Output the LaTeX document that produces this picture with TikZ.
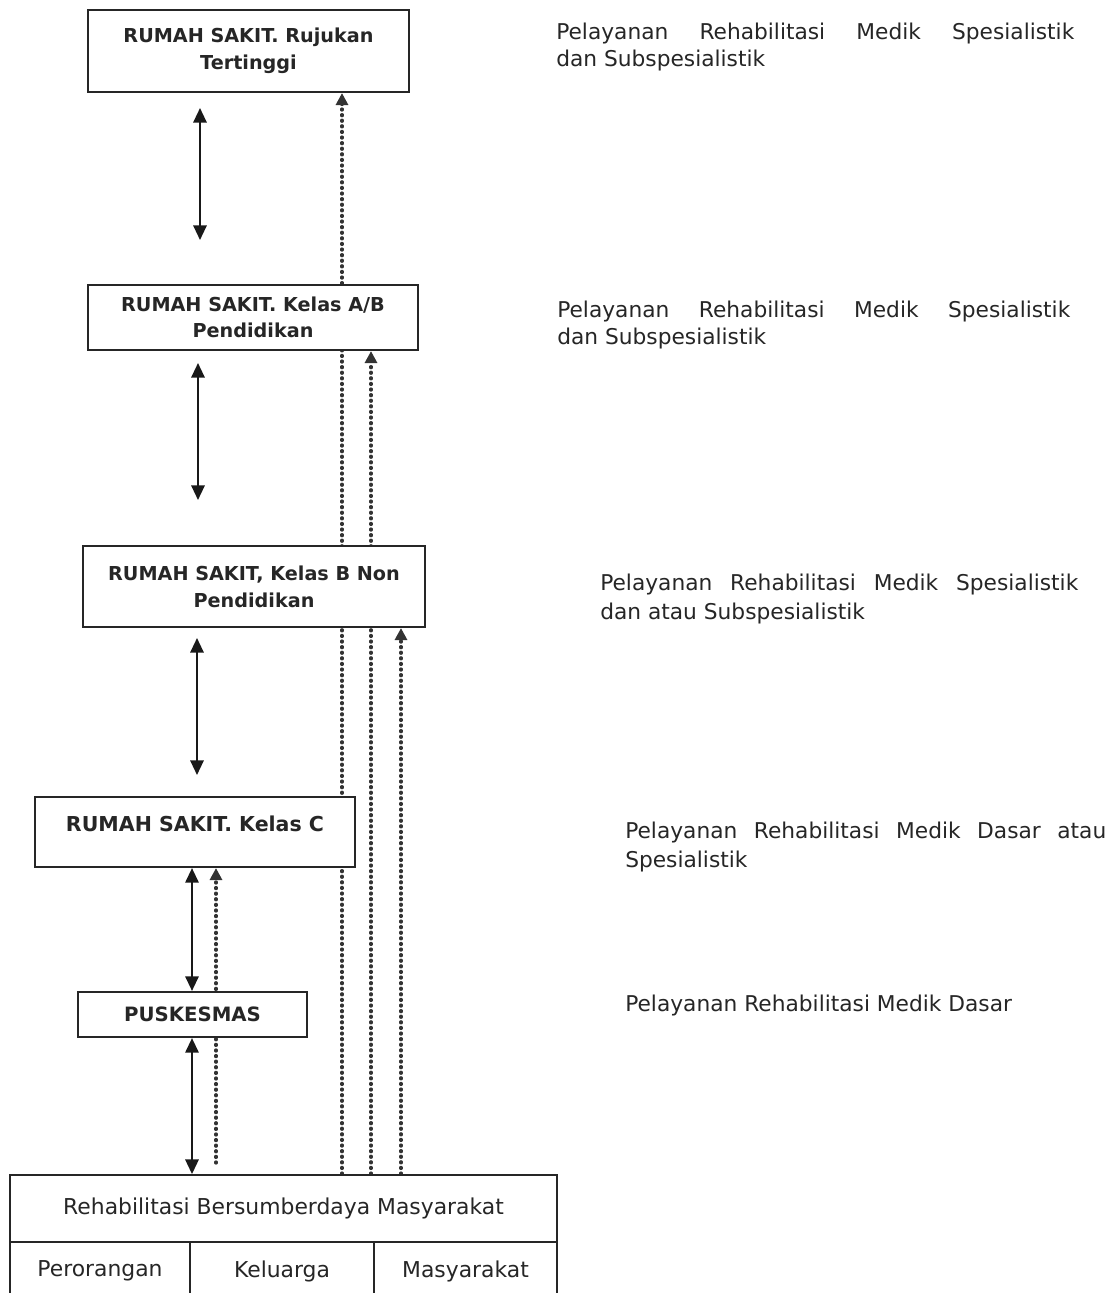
\documentclass[tikz,border=0pt]{standalone}
\usepackage{fontspec}
\setmainfont{DejaVu Sans}
\usetikzlibrary{arrows.meta,backgrounds}
\begin{document}
\begin{tikzpicture}[x=0.75pt,y=-0.75pt,
  box/.style={draw=black!85,line width=1.6pt,fill=white,inner sep=0pt,align=center,
    text=black!85,font=\bfseries\fontsize{14.4}{20}\selectfont},
  cell/.style={draw=black!85,line width=1.4pt,fill=white,inner sep=0pt,text=black!85,
    font=\fontsize{16.4}{20}\selectfont},
  dbl/.style={black!90,line width=1.6pt,{Triangle[length=11pt,width=10pt]}-{Triangle[length=11pt,width=10pt]}},
  dotarrow/.style={black!80,line width=2.4pt,dash pattern=on 0.8pt off 3.4pt,line cap=round,
    -{Triangle[length=9pt,width=9pt]}},
  info/.style={anchor=base west,inner sep=0pt,align=left,text=black!85,
    font=\fontsize{16.3}{20}\selectfont}]
\useasboundingbox (0,0) rectangle (1117,1293);
\clip (0,0) rectangle (1117,1293);

% boxes
\node[box,minimum width=321*0.75pt,minimum height=82*0.75pt] (b1) at (248.5,51)
  {RUMAH SAKIT. Rujukan\\Tertinggi};
\node[box,minimum width=330*0.75pt,minimum height=65*0.75pt] (b2) at (253,317.5)
  {RUMAH SAKIT. Kelas A/B\\Pendidikan};
\node[box,minimum width=342*0.75pt,minimum height=81*0.75pt] (b3) at (254,586.5)
  {RUMAH SAKIT, Kelas B Non\\Pendidikan};
\node[box,minimum width=320*0.75pt,minimum height=70*0.75pt] (b4) at (195,832) {};
\node[inner sep=0pt,font=\bfseries\fontsize{15.4}{20}\selectfont,text=black!85] (b4t) at (195,824)
  {RUMAH SAKIT. Kelas C};
\node[box,minimum width=229*0.75pt,minimum height=45*0.75pt,
  font=\bfseries\fontsize{14.8}{20}\selectfont] (b5) at (192.5,1014.5) {PUSKESMAS};

% table
\node[cell,minimum width=547*0.75pt,minimum height=67*0.75pt] (t1) at (283.5,1208.5)
  {Rehabilitasi Bersumberdaya Masyarakat};
\node[cell,minimum width=180*0.75pt,minimum height=58*0.75pt] (c1) at (100,1271) {Perorangan};
\node[cell,minimum width=184*0.75pt,minimum height=58*0.75pt] (c2) at (282,1271) {Keluarga};
\node[cell,minimum width=183*0.75pt,minimum height=58*0.75pt] (c3) at (465.5,1271) {Masyarakat};

% solid double arrows
\coordinate (a1t) at (200,108); \coordinate (a1b) at (200,240);
\coordinate (a2t) at (198,363); \coordinate (a2b) at (198,500);
\coordinate (a3t) at (197,638); \coordinate (a3b) at (197,775);
\draw[dbl] (a1t) -- (a1b);
\draw[dbl] (a2t) -- (a2b);
\draw[dbl] (a3t) -- (a3b);
\coordinate (xa) at (192,0);
\draw[dbl] (b4.south -| xa) -- (b5.north -| xa);
\draw[dbl] (b5.south -| xa) -- (t1.north -| xa);

% dotted connectors (behind boxes)
\coordinate (xd1) at (342,0);
\coordinate (xd2) at (371,0);
\coordinate (xd3) at (401,0);
\coordinate (d4s) at (216,1163);
\begin{pgfonlayer}{background}
\fill[white] (0,0) rectangle (1117,1293);
\draw[dotarrow] (t1.north -| xd1) -- (b1.south -| xd1);
\draw[dotarrow] (t1.north -| xd2) -- (b2.south -| xd2);
\draw[dotarrow] (t1.north -| xd3) -- (b3.south -| xd3);
\draw[dotarrow] (d4s) -- (b4.south -| d4s);
\end{pgfonlayer}

% right-hand descriptions (anchor = baseline of the last line)
\node[info] (l1) at (556,66)
  {\makebox[388.5pt][s]{Pelayanan Rehabilitasi Medik Spesialistik}\\dan Subspesialistik};
\node[info] (l2) at (557,344)
  {\makebox[384.75pt][s]{Pelayanan Rehabilitasi Medik Spesialistik}\\dan Subspesialistik};
\node[info,font=\fontsize{16.3}{21.5}\selectfont] (l3) at (600,619)
  {\makebox[358.5pt][s]{Pelayanan Rehabilitasi Medik Spesialistik}\\dan atau Subspesialistik};
\node[info,font=\fontsize{16.3}{21.5}\selectfont] (l4) at (625,867)
  {\makebox[360.75pt][s]{Pelayanan Rehabilitasi Medik Dasar atau}\\Spesialistik};
\node[info] (l5) at (625,1011) {Pelayanan Rehabilitasi Medik Dasar};
\end{tikzpicture}
\end{document}
